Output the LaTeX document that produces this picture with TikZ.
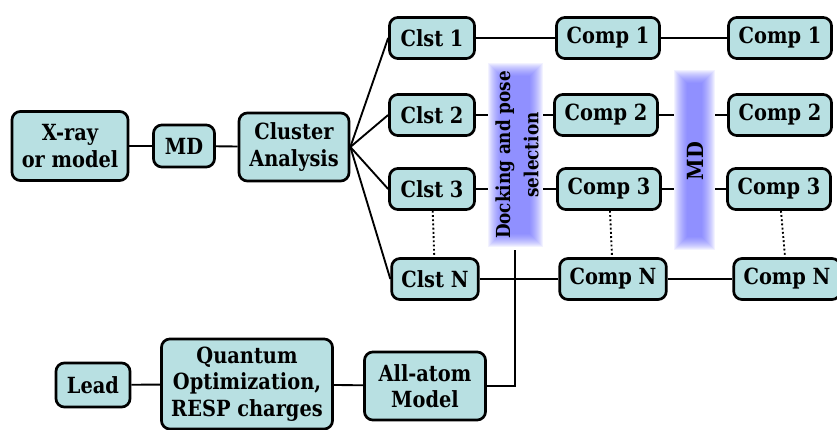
\documentclass[tikz,border=0pt]{standalone}
\usepackage{fontspec}
\setmainfont{DejaVu Serif}[FakeStretch=0.87]
\definecolor{boxfill}{RGB}{184,224,226}
\definecolor{glowblue}{RGB}{100,100,255}
\begin{document}
\begin{tikzpicture}[x=0.03cm, y=-0.03cm, line width=1.6pt,
    font=\fontsize{19}{22.5}\selectfont\bfseries,
    box/.style={draw, fill=boxfill, rounded corners=0.25cm, line width=2.3pt,
      inner sep=0pt, align=center},
    clstbox/.style={box, minimum width=2.55cm, minimum height=1.23cm},
    compbox/.style={box, minimum width=3.09cm, minimum height=1.23cm}]
    \useasboundingbox (0,0) rectangle (837,430);

    % left chain
    \node[box, minimum width=3.48cm, minimum height=2.07cm]
    (xray) at (70,146) {X-ray\\or model};
    \node[box, minimum width=1.83cm, minimum height=1.26cm]
    (md) at (184,146) {MD};
    \node[box, minimum width=3.3cm, minimum height=2.04cm]
    (clus) at (294,147) {Cluster\\Analysis};
    \draw (xray) -- (md);
    \draw (md) -- (clus);

    % clusters
    \node[clstbox] (clst1) at (432,38) {Clst 1};
    \node[clstbox] (clst2) at (432,115) {Clst 2};
    \node[clstbox] (clst3) at (432,189) {Clst 3};
    \node[clstbox, minimum width=2.6cm] (clstN) at (435,279) {Clst N};

    % complexes after docking
    \node[compbox] (comp1) at (608,38) {Comp 1};
    \node[compbox] (comp2) at (606,115) {Comp 2};
    \node[compbox] (comp3) at (609,189) {Comp 3};
    \node[compbox, minimum width=3.2cm] (compN) at (613,279) {Comp N};

    % complexes after MD
    \node[compbox] (comp1b) at (780,38) {Comp 1};
    \node[compbox] (comp2b) at (780,115) {Comp 2};
    \node[compbox] (comp3b) at (779,189) {Comp 3};
    \node[compbox, minimum width=3.2cm] (compNb) at (787,279) {Comp N};

    \draw (clus.east) -- (clst1.west);
    \draw (clus.east) -- (clst2.west);
    \draw (clus.east) -- (clst3.west);
    \draw (clus.east) -- (clstN.west);

    \draw (clst1) -- (comp1);
    \draw (clst2) -- (comp2);
    \draw (clst3) -- (comp3);
    \draw (clstN) -- (compN);
    \draw (comp1) -- (comp1b);
    \draw (comp2) -- (comp2b);
    \draw (comp3) -- (comp3b);
    \draw (compN) -- (compNb);

    \draw[dotted] (clst3) -- (clstN);
    \draw[dotted] (comp3) -- (compN);
    \draw[dotted] (comp3b) -- (compNb);

    % ligand preparation
    \node[box, minimum width=2.22cm, minimum height=1.32cm]
    (lead) at (93,385) {Lead};
    \node[box, minimum width=5.13cm, minimum height=2.7cm]
    (quant) at (247,384) {Quantum\\Optimization,\\RESP charges};
    \node[box, minimum width=3.63cm, minimum height=2.04cm]
    (atom) at (425,386) {All-atom\\Model};
    \draw (lead) -- (quant);
    \draw (quant) -- (atom);
    \coordinate (dockin) at (515,250);
    \draw (atom.east) -| (dockin);

    % glowing bands
    \fill[white] (488,63) rectangle (543,247);
    \foreach \k in {0,...,13}
      \fill[glowblue, opacity=0.08] (488+\k,63+\k) rectangle (543-\k,247-\k);
    \node[rotate=90, align=center, font=\fontsize{16.5}{24}\selectfont\bfseries]
    (dock) at (517,155) {Docking and pose\\selection};

    \fill[white] (674,70) rectangle (715,250);
    \foreach \k in {0,...,13}
      \fill[glowblue, opacity=0.08] (674+\k,70+\k) rectangle (715-\k,250-\k);
    \node[rotate=90] (mdlabel) at (695,161) {MD};
\end{tikzpicture}
\end{document}
